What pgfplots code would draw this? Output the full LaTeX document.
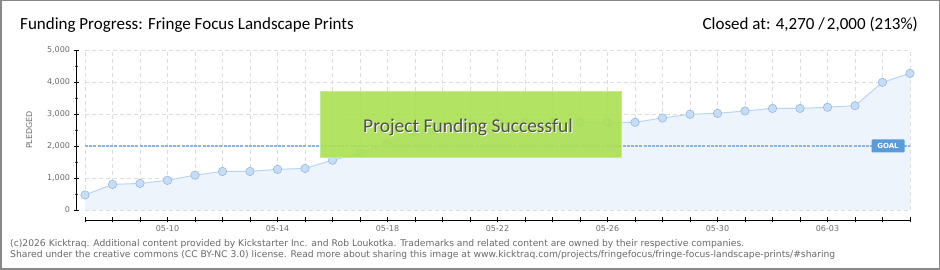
\documentclass[border=0pt]{standalone}
\usepackage{pgfplots}
\pgfplotsset{compat=1.18}
\usepackage{fontspec}
\setmainfont{DejaVu Sans}
\newfontfamily\titlefont{Carlito}
\definecolor{areafill}{RGB}{237,244,252}
\definecolor{linecol}{RGB}{185,213,242}
\definecolor{markfill}{RGB}{198,221,246}
\definecolor{markdraw}{RGB}{148,184,224}
\definecolor{goalblue}{RGB}{141,179,226}
\definecolor{goalbox}{RGB}{90,155,218}
\definecolor{gridgray}{RGB}{221,221,221}
\definecolor{labelgray}{RGB}{110,110,110}
\definecolor{footgray}{RGB}{105,105,105}
\definecolor{boxgreen}{RGB}{170,224,82}
\definecolor{boxedge}{RGB}{196,236,140}
\definecolor{bordergray}{RGB}{136,136,136}
\definecolor{boxtext}{RGB}{80,80,80}
\begin{document}
\begin{tikzpicture}[x=1pt,y=1pt]
\useasboundingbox (0,0) rectangle (940,270);
\draw[fill=white, draw=bordergray, line width=1.5pt] (0.75,0.75) rectangle (939.25,269.25);
\begin{axis}[
  at={(85pt,60pt)}, anchor=south west,
  scale only axis, width=825pt, height=160pt,
  xmin=0, xmax=30, ymin=0, ymax=5000,
  axis lines*=left,
  axis x line shift=10pt, axis y line shift=9pt,
  axis line style={black, line width=0.8pt},
  xtick={0,...,30},
  xticklabels={,,,05-10,,,,05-14,,,,05-18,,,,05-22,,,,05-26,,,,05-30,,,,06-03,,,},
  ytick={0,1000,2000,3000,4000,5000},
  yticklabels={0,{1,000},{2,000},{3,000},{4,000},{5,000}},
  minor ytick={500,1500,2500,3500,4500},
  tick align=center, major tick length=5pt, minor tick length=3pt,
  major tick style={black, line width=0.8pt},
  minor tick style={red, line width=0.8pt},
  grid=major, major grid style={gridgray, dash pattern=on 4pt off 3pt, line width=0.6pt},
  tick label style={font=\fontsize{8}{9}\selectfont, text=labelgray},
  ylabel={PLEDGED}, ylabel style={font=\fontsize{8}{9}\selectfont, text=labelgray},
  ylabel shift=8pt,
  clip=false,
]
\addplot[draw=none, fill=areafill] coordinates {
(0,470) (1,800) (2,830) (3,925) (4,1090) (5,1205) (6,1205) (7,1270) (8,1300) (9,1555)
(10,1775) (11,2090) (12,2450) (13,2600) (14,2690) (15,2740) (16,2740) (17,2740) (18,2740)
(19,2740) (20,2740) (21,2875) (22,2990) (23,3020) (24,3095) (25,3175) (26,3175) (27,3210)
(28,3260) (29,3990) (30,4270)} \closedcycle;
\addplot[goalblue, line width=2.4pt, dash pattern=on 3pt off 1.2pt] coordinates {(0,2000) (30,2000)};
\addplot[linecol, line width=1pt, mark=*, mark size=4.2pt, mark options={fill=markfill, draw=markdraw, line width=0.6pt, solid}] coordinates {
(0,470) (1,800) (2,830) (3,925) (4,1090) (5,1205) (6,1205) (7,1270) (8,1300) (9,1555)
(10,1775) (11,2090) (12,2450) (13,2600) (14,2690) (15,2740) (16,2740) (17,2740) (18,2740)
(19,2740) (20,2740) (21,2875) (22,2990) (23,3020) (24,3095) (25,3175) (26,3175) (27,3210)
(28,3260) (29,3990) (30,4270)};
\node[fill=goalbox, text=white, font=\fontsize{7}{8}\selectfont\bfseries, inner sep=0pt, minimum width=33pt, minimum height=13pt, rounded corners=1pt] at (axis cs:29.2,2000) {GOAL};
\end{axis}
\fill[boxgreen, fill opacity=0.9] (320,112) rectangle (621,178);
\draw[boxedge, line width=1pt] (320,112) rectangle (621,178);
\node[font=\titlefont\fontsize{19.5}{21}\selectfont, text=white] at (469,142) {Project Funding Successful};
\node[font=\titlefont\fontsize{19.5}{21}\selectfont, text=boxtext] at (468,143) {Project Funding Successful};
\node[anchor=base west, inner sep=0pt, font=\titlefont\fontsize{17}{18}\selectfont] at (20,240) {Funding Progress: Fringe Focus Landscape Prints};
\node[anchor=base east, inner sep=0pt, font=\titlefont\fontsize{17}{18}\selectfont] at (918,240) {Closed at: 4,270 /\kern2pt 2,000 (213\%)};
\node[anchor=base west, inner sep=0pt, font=\fontsize{9.2}{10}\selectfont, text=footgray] at (10,23) {(c)2026 Kicktraq. Additional content provided by Kickstarter Inc. and Rob Loukotka. Trademarks and related content are owned by their respective companies.};
\node[anchor=base west, inner sep=0pt, font=\fontsize{9.2}{10}\selectfont, text=footgray] at (10,12) {Shared under the creative commons (CC BY-NC 3.0) license. Read more about sharing this image at www.kicktraq.com/projects/fringefocus/fringe-focus-landscape-prints/\#sharing};
\end{tikzpicture}
\end{document}
